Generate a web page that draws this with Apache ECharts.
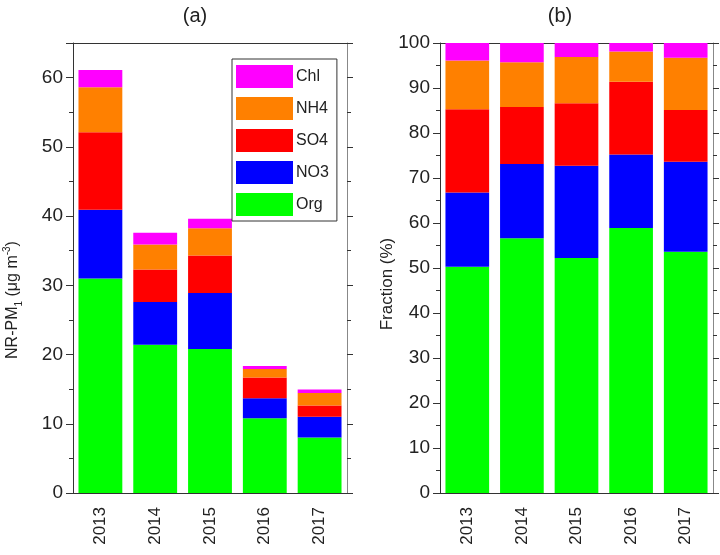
<!DOCTYPE html>
<html><head><meta charset="utf-8">
<script src="https://cdn.jsdelivr.net/npm/echarts@6/dist/echarts.min.js"></script>
<style>html,body{margin:0;padding:0;background:#fff}#c{width:720px;height:555px}</style>
</head><body><div id="c"></div>
<script>
const years = ['2013','2014','2015','2016','2017'];
const seriesNames = ['Org','NO3','SO4','NH4','Chl'];
const legendOrder = ['Chl','NH4','SO4','NO3','Org'];
const massOrg = [31.0, 21.4, 20.8, 10.8, 8.0];
const massNO3 = [9.9, 6.2, 8.1, 2.9, 3.0];
const massSO4 = [11.2, 4.7, 5.4, 3.0, 1.65];
const massNH4 = [6.5, 3.6, 3.95, 1.2, 1.8];
const massChl = [2.5, 1.7, 1.35, 0.45, 0.5];
const fracOrg = [50.3, 56.6, 52.2, 58.9, 53.6];
const fracNO3 = [16.5, 16.5, 20.5, 16.3, 20.0];
const fracSO4 = [18.5, 12.7, 13.9, 16.2, 11.5];
const fracNH4 = [10.8, 9.9, 10.3, 6.7, 11.6];
const fracChl = [3.9, 4.3, 3.1, 1.9, 3.3];
const colors = {Org:'#00ff00', NO3:'#0000ff', SO4:'#ff0000', NH4:'#ff8000', Chl:'#ff00ff'};

const FONT = 'Liberation Sans, Arial, sans-serif';
const AX = '#333';
const AXR = '#888';
const massData = {Org:massOrg, NO3:massNO3, SO4:massSO4, NH4:massNH4, Chl:massChl};
const fracData = {Org:fracOrg, NO3:fracNO3, SO4:fracSO4, NH4:fracNH4, Chl:fracChl};

function xBottom(gi){return {type:'category', gridIndex:gi, data:years, position:'bottom',
  axisLine:{lineStyle:{color:AX,width:1}}, axisTick:{alignWithLabel:true,length:7,lineStyle:{color:AX}},
  axisLabel:{rotate:90, margin:14, fontSize:17, color:'#222', fontFamily:FONT}};}
function xBottomB(gi){return {type:'category', gridIndex:gi, data:years, position:'bottom',
  axisLine:{show:false}, axisTick:{inside:true,length:3,lineStyle:{color:AX}},
  axisLabel:{show:false}};}
function xTop(gi){return {type:'category', gridIndex:gi, data:years, position:'top',
  axisLine:{lineStyle:{color:AX,width:1}}, axisTick:{inside:true,length:8,lineStyle:{color:AX}},
  axisLabel:{show:false}};}
function xTopC(gi){return {type:'category', gridIndex:gi, data:years, position:'top',
  axisLine:{show:false}, axisTick:{alignWithLabel:true,length:3,lineStyle:{color:AX}},
  axisLabel:{show:false}};}
function yLeft(gi,max,showMax){return {type:'value', gridIndex:gi, min:0, max:max, interval:10, position:'left',
  axisLine:{show:true,lineStyle:{color:AX,width:1}}, axisTick:{show:true,length:7,lineStyle:{color:AX}},
  minorTick:{show:true,splitNumber:2,length:4,lineStyle:{color:AX}}, splitLine:{show:false},
  axisLabel:{margin:10, fontSize:19, color:'#222', fontFamily:FONT, showMaxLabel:showMax}};}
function yRight(gi,max){return {type:'value', gridIndex:gi, min:0, max:max, interval:10, position:'right',
  axisLine:{show:true,lineStyle:{color:AXR,width:1}}, axisTick:{show:true,length:6,lineStyle:{color:AX}},
  minorTick:{show:true,splitNumber:2,length:4,lineStyle:{color:AX}}, splitLine:{show:false},
  axisLabel:{show:false}};}

const series = [];
seriesNames.forEach(n=>{
  series.push({name:n, type:'bar', stack:'a', xAxisIndex:0, yAxisIndex:0, data:massData[n],
    itemStyle:{color:colors[n]}, barCategoryGap:'20%'});
});
seriesNames.forEach(n=>{
  series.push({name:n, type:'bar', stack:'b', xAxisIndex:4, yAxisIndex:2, data:fracData[n],
    itemStyle:{color:colors[n]}, barCategoryGap:'20%'});
});

const chart = echarts.init(document.getElementById('c'), null, {renderer:'canvas'});
chart.setOption({
  animation:false,
  backgroundColor:'#fff',
  textStyle:{fontFamily:FONT},
  grid:[
    {left:73, top:43, width:274, height:450},
    {left:440, top:43, width:273, height:450}
  ],
  xAxis:[xBottom(0), xBottomB(0), xTop(0), xTopC(0), xBottom(1), xBottomB(1), xTop(1), xTopC(1)],
  yAxis:[yLeft(0,65,false), yRight(0,65), yLeft(1,100,true), yRight(1,100)],
  legend:{data:legendOrder, orient:'vertical', left:232, top:59, padding:[6,8,5,4],
    itemWidth:57, itemHeight:23, itemGap:9, icon:'rect', borderColor:'#333', borderWidth:1,
    textStyle:{fontSize:16, color:'#222', fontFamily:FONT, padding:[0,0,0,-2]}},
  graphic:[
    {type:'text', x:195, y:16, style:{text:'(a)', font:'20px '+FONT, fill:'#222', align:'center', verticalAlign:'middle'}},
    {type:'text', x:560, y:16, style:{text:'(b)', font:'20px '+FONT, fill:'#222', align:'center', verticalAlign:'middle'}},
    {type:'text', x:13, y:300, rotation:Math.PI/2, style:{
      text:'{a|NR-PM}{s|1}{a| (μg m}{p|-3}{a|)}', align:'center', verticalAlign:'middle',
      rich:{a:{fontSize:16, fontFamily:FONT, fill:'#222', lineHeight:22},
            s:{fontSize:10, fontFamily:FONT, fill:'#222', verticalAlign:'bottom', lineHeight:22, padding:[8,0,0,0]},
            p:{fontSize:10, fontFamily:FONT, fill:'#222', verticalAlign:'top', lineHeight:22, padding:[0,0,8,0]}}}},
    {type:'text', x:387, y:284, rotation:Math.PI/2, style:{text:'Fraction (%)', font:'17px '+FONT, fill:'#222', align:'center', verticalAlign:'middle'}}
  ],
  series:series
});
</script></body></html>
